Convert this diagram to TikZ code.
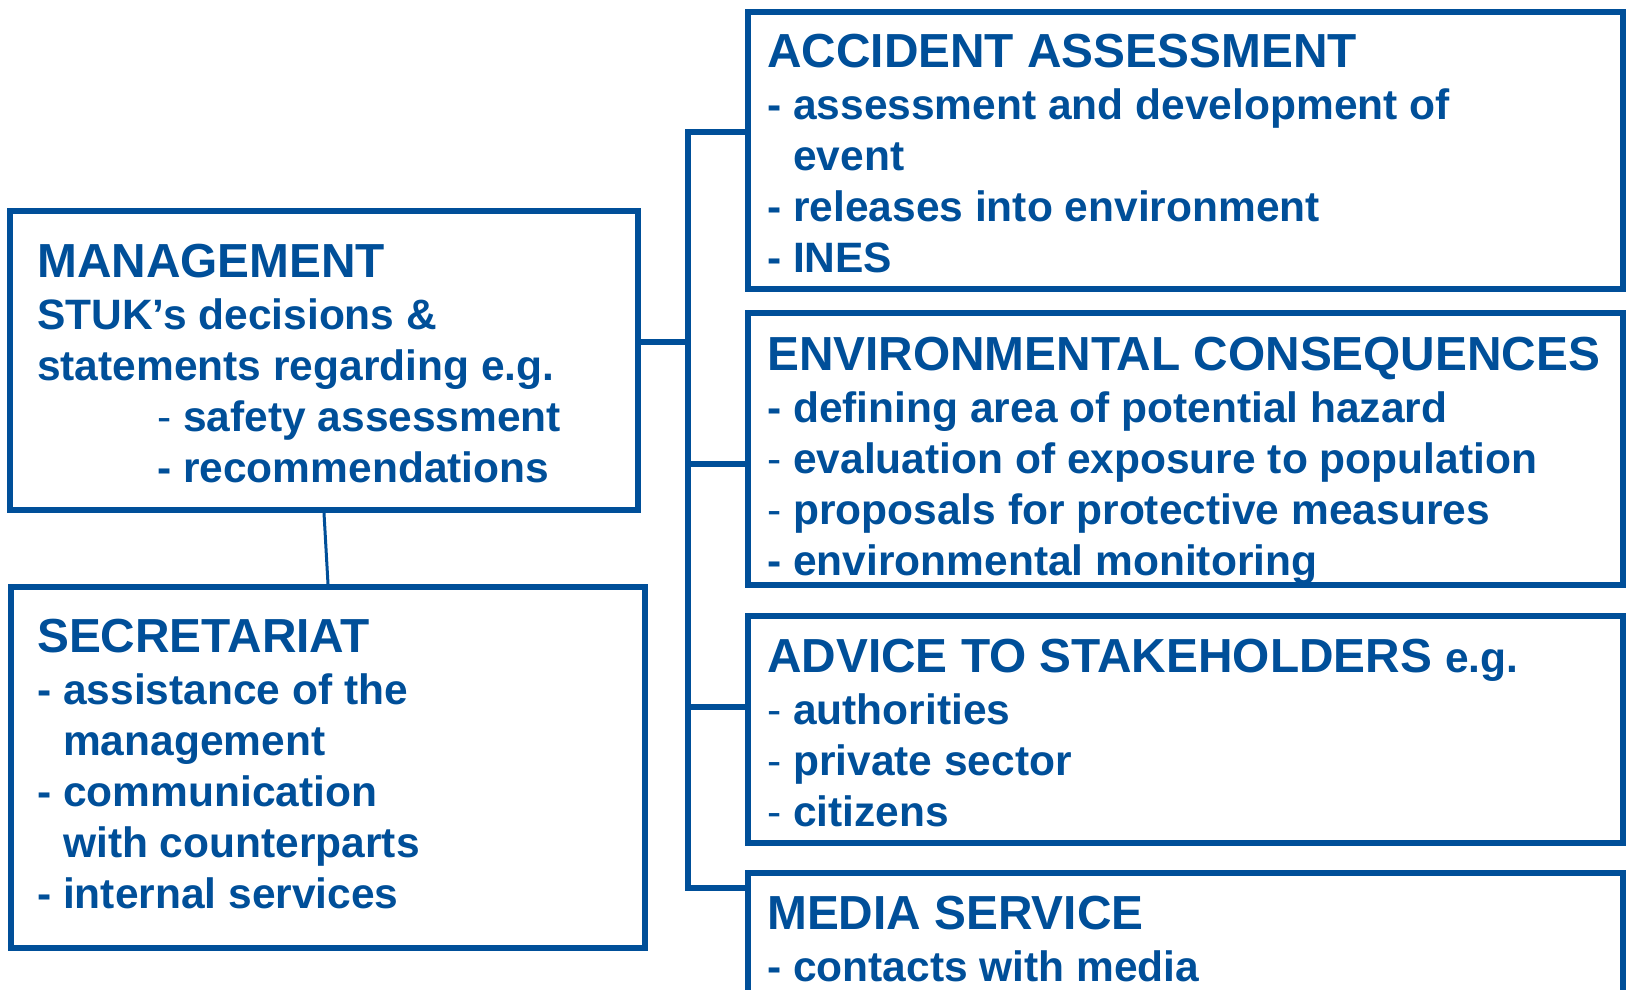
\documentclass[tikz,border=0pt]{standalone}
\usepackage{fontspec}
\setmainfont{Liberation Sans}
\definecolor{stukblue}{RGB}{0,79,153}
\begin{document}
\begin{tikzpicture}[x=1pt,y=-1pt,
  box/.style={draw=stukblue,line width=6pt,inner sep=0pt,rectangle},
  conn/.style={draw=stukblue,line width=6pt},
  thinconn/.style={draw=stukblue,line width=3pt},
  ttl/.style={anchor=base west,inner sep=0pt,text=stukblue,font=\fontsize{47.8}{51}\selectfont\bfseries},
  bdy/.style={anchor=base west,inner sep=0pt,text=stukblue,font=\fontsize{42.5}{51}\selectfont\bfseries}]
\useasboundingbox (0,0) rectangle (1627,990);
\clip (0,0) rectangle (1627,990);
% boxes
\node[box,minimum width=628pt,minimum height=299pt] (mgmt) at (324,360.5) {};
\node[box,minimum width=634pt,minimum height=361pt] (sec) at (328,767.5) {};
\node[box,minimum width=875pt,minimum height=277pt] (acc) at (1185.5,150.5) {};
\node[box,minimum width=875pt,minimum height=272pt] (env) at (1185.5,449) {};
\node[box,minimum width=875pt,minimum height=227pt] (adv) at (1185.5,729.5) {};
\node[box,minimum width=875pt,minimum height=137pt] (med) at (1185.5,941.5) {};
% junction points
\coordinate (ja) at (688,132);
\coordinate (jm) at (688,342);
\coordinate (je) at (688,464);
\coordinate (jv) at (688,707);
\coordinate (jd) at (688,888);
% connectors
\draw[thinconn] (mgmt.south) -- (sec.north);
\draw[conn] (acc.west |- ja) -- (ja) -- (jd) -- (med.west |- jd);
\draw[conn] (mgmt.east |- jm) -- (jm);
\draw[conn] (je) -- (env.west |- je);
\draw[conn] (jv) -- (adv.west |- jv);
% management text
\node[ttl] (m0) at (37,277) {MANAGEMENT};
\node[bdy] (m1) at (37,329) {STUK’s decisions \&};
\node[bdy] (m2) at (37,380) {statements regarding e.g.};
\node[bdy] (m3) at (157,431) {{\mdseries -} safety assessment};
\node[bdy] (m4) at (157,482) {- recommendations};
% secretariat text
\node[ttl] (s0) at (37,652) {SECRETARIAT};
\node[bdy] (s1) at (37,704) {- assistance of the};
\node[bdy] (s2) at (37,755) {\hphantom{- }management};
\node[bdy] (s3) at (37,806) {- communication};
\node[bdy] (s4) at (37,857) {\hphantom{- }with counterparts};
\node[bdy] (s5) at (37,908) {- internal services};
% accident text
\node[ttl] (a0) at (767,67) {ACCIDENT ASSESSMENT};
\node[bdy] (a1) at (767,119) {- assessment and development of};
\node[bdy] (a2) at (767,170) {\hphantom{- }event};
\node[bdy] (a3) at (767,221) {- releases into environment};
\node[bdy] (a4) at (767,272) {- INES};
% environmental text
\node[ttl] (e0) at (767,370) {ENVIRONMENTAL CONSEQUENCES};
\node[bdy] (e1) at (767,422) {- defining area of potential hazard};
\node[bdy] (e2) at (767,473) {{\mdseries -} evaluation of exposure to population};
\node[bdy] (e3) at (767,524) {{\mdseries -} proposals for protective measures};
\node[bdy] (e4) at (767,575) {- environmental monitoring};
% advice text
\node[ttl] (v0) at (767,672) {ADVICE TO STAKEHOLDERS {\fontsize{42.5}{51}\selectfont e.g.}};
\node[bdy] (v1) at (767,724) {{\mdseries -} authorities};
\node[bdy] (v2) at (767,775) {{\mdseries -} private sector};
\node[bdy] (v3) at (767,826) {{\mdseries -} citizens};
% media text
\node[ttl] (d0) at (767,929) {MEDIA SERVICE};
\node[bdy] (d1) at (767,981) {- contacts with media};
\end{tikzpicture}
\end{document}
